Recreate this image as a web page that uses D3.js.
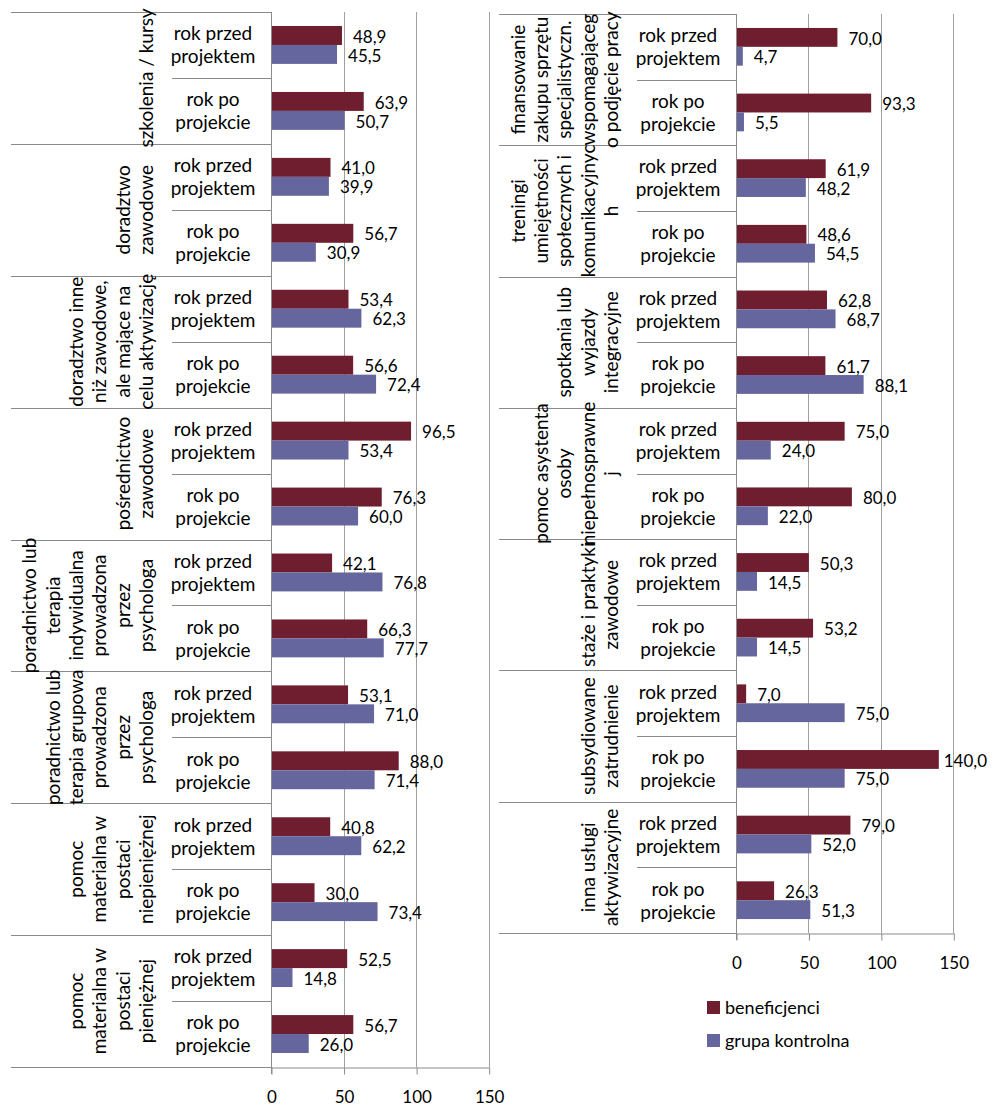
<!DOCTYPE html>
<html>
<head>
<meta charset="utf-8">
<script src="https://cdn.jsdelivr.net/npm/d3@7"></script>
<style>
  body { margin: 0; background: #fff; }
  svg text { font-family: Lato, "Open Sans", sans-serif; fill: #000; }
</style>
</head>
<body>
<svg id="chart" width="994" height="1106"></svg>
<script>
// ---- data ----
const periods = [["rok przed", "projektem"], ["rok po", "projekcie"]];
const seriesNames = ["beneficjenci", "grupa kontrolna"];
const seriesColors = ["#6e1e2e", "#66669e"];
const xTicks = [0, 50, 100, 150];

const leftGroups = [
  ["szkolenia / kursy"],
  ["doradztwo", "zawodowe"],
  ["doradztwo inne", "niż zawodowe,", "ale mające na", "celu aktywizację"],
  ["pośrednictwo", "zawodowe"],
  ["poradnictwo lub", "terapia", "indywidualna", "prowadzona", "przez", "psychologa"],
  ["poradnictwo lub", "terapia grupowa", "prowadzona", "przez", "psychologa"],
  ["pomoc", "materialna w", "postaci", "niepieniężnej"],
  ["pomoc", "materialna w", "postaci", "pieniężnej"]
];
const leftBenBefore  = [48.9, 41.0, 53.4, 96.5, 42.1, 53.1, 40.8, 52.5];
const leftCtrlBefore = [45.5, 39.9, 62.3, 53.4, 76.8, 71.0, 62.2, 14.8];
const leftBenAfter   = [63.9, 56.7, 56.6, 76.3, 66.3, 88.0, 30.0, 56.7];
const leftCtrlAfter  = [50.7, 30.9, 72.4, 60.0, 77.7, 71.4, 73.4, 26.0];

const rightGroups = [
  ["finansowanie", "zakupu sprzętu", "specjalistyczn.", "wspomagająceg", "o podjęcie pracy"],
  ["treningi", "umiejętności", "społecznych i", "komunikacyjnyc", "h"],
  ["spotkania lub", "wyjazdy", "integracyjne"],
  ["pomoc asystenta", "osoby", "niepełnosprawne", "j"],
  ["staże i praktyki", "zawodowe"],
  ["subsydiowane", "zatrudnienie"],
  ["inna usługi", "aktywizacyjne"]
];
const rightBenBefore  = [70.0, 61.9, 62.8, 75.0, 50.3, 7.0, 79.0];
const rightCtrlBefore = [4.7, 48.2, 68.7, 24.0, 14.5, 75.0, 52.0];
const rightBenAfter   = [93.3, 48.6, 61.7, 80.0, 53.2, 140.0, 26.3];
const rightCtrlAfter  = [5.5, 54.5, 88.1, 22.0, 14.5, 75.0, 51.3];

// ---- drawing ----
const svg = d3.select("#chart");
const fmt = v => d3.format(".1f")(v).replace(".", ",");
const lineColor = "#8a8a8a";
const gridColor = "#a0a0a0";

function drawPanel(cfg) {
  const g = svg.append("g");
  const n = cfg.groups.length;
  const x = d3.scaleLinear().domain([0, 150]).range([cfg.x0, cfg.x1]);
  const yGroup = d3.scaleBand().domain(d3.range(n)).range([cfg.top, cfg.bottom]);
  const yPeriod = d3.scaleBand().domain([0, 1]).range([0, yGroup.bandwidth()]);
  const ySeries = d3.scaleBand().domain([0, 1]).range([0, yPeriod.bandwidth()])
    .paddingInner(0).paddingOuter(0.74);

  const rows = [];
  cfg.groups.forEach((lab, i) => {
    [0, 1].forEach(p => {
      const vals = p === 0 ? [cfg.benBefore[i], cfg.ctrlBefore[i]] : [cfg.benAfter[i], cfg.ctrlAfter[i]];
      vals.forEach((v, s) => rows.push({ group: i, period: p, series: s, value: v }));
    });
  });
  const barY = d => yGroup(d.group) + yPeriod(d.period) + ySeries(d.series);

  // gridlines
  g.selectAll("line.grid").data(xTicks.filter(t => t > 0)).join("line")
    .attr("x1", d => Math.round(x(d)) + 0.5).attr("x2", d => Math.round(x(d)) + 0.5)
    .attr("y1", cfg.top).attr("y2", cfg.bottom)
    .attr("stroke", gridColor).attr("stroke-width", 1);

  // category dividers (groups)
  g.selectAll("line.gdiv").data(d3.range(n + 1)).join("line")
    .attr("x1", cfg.catLeft).attr("x2", Math.round(x(0)))
    .attr("y1", i => Math.round(cfg.top + i * yGroup.step()) + 0.5)
    .attr("y2", i => Math.round(cfg.top + i * yGroup.step()) + 0.5)
    .attr("stroke", lineColor);

  // category dividers (periods)
  g.selectAll("line.pdiv").data(d3.range(n)).join("line")
    .attr("x1", cfg.subLeft).attr("x2", Math.round(x(0)))
    .attr("y1", i => Math.round(yGroup(i) + yPeriod(1)) + 0.5)
    .attr("y2", i => Math.round(yGroup(i) + yPeriod(1)) + 0.5)
    .attr("stroke", lineColor);

  // bars
  g.selectAll("rect.bar").data(rows).join("rect")
    .attr("x", x(0) + 1)
    .attr("y", barY)
    .attr("width", d => Math.max(0, x(d.value) - x(0) - 1))
    .attr("height", ySeries.bandwidth())
    .attr("fill", d => seriesColors[d.series]);

  // value labels
  g.selectAll("text.val").data(rows).join("text")
    .attr("class", "val")
    .attr("x", d => x(d.value) + 11)
    .attr("y", d => barY(d) + ySeries.bandwidth() / 2 + 1)
    .attr("dy", "0.36em")
    .style("font-size", "17px")
    .text(d => fmt(d.value))
    .each(function () {
      const w = this.getComputedTextLength();
      const xx = +this.getAttribute("x");
      if (xx + w > cfg.labelMax) this.setAttribute("x", cfg.labelMax - w);
    });

  // period labels
  rows.filter(d => d.series === 0).forEach(d => {
    const cy = yGroup(d.group) + yPeriod(d.period) + yPeriod.bandwidth() / 2;
    periods[d.period].forEach((t, k) => {
      g.append("text")
        .attr("x", x(0) - 58)
        .attr("y", cy + (k === 0 ? -11.5 : 11.5))
        .attr("dy", "0.36em")
        .attr("text-anchor", "middle")
        .style("font-size", "19px")
        .text(t);
    });
  });

  // rotated group labels
  cfg.groups.forEach((lines, i) => {
    const cy = yGroup(i) + yGroup.bandwidth() / 2;
    const lg = g.append("g")
      .attr("transform", `translate(${x(0) - 125},${cy}) rotate(-90)`);
    lines.forEach((t, k) => {
      lg.append("text")
        .attr("x", 0)
        .attr("y", -(lines.length - 1 - k) * 23.3)
        .attr("dy", "0.36em")
        .attr("text-anchor", "middle")
        .style("font-size", "19px")
        .text(t);
    });
  });

  // value axis
  const axis = d3.axisBottom(x).tickValues(xTicks).tickSize(7).tickSizeOuter(0)
    .tickPadding(16).tickFormat(d3.format("d"));
  const ax = g.append("g")
    .attr("transform", `translate(0.5,${Math.round(cfg.bottom) + 0.5})`)
    .call(axis);
  ax.select(".domain").attr("stroke", lineColor);
  ax.selectAll(".tick line").attr("stroke", lineColor);
  ax.selectAll(".tick text").style("font-size", "17px").style("font-family", "Lato, 'Open Sans', sans-serif").attr("fill", "#000");

  // category axis line
  g.append("line")
    .attr("x1", Math.round(x(0)) + 0.5).attr("x2", Math.round(x(0)) + 0.5)
    .attr("y1", cfg.top).attr("y2", Math.round(cfg.bottom) + 7)
    .attr("stroke", lineColor);
}

drawPanel({
  groups: leftGroups,
  benBefore: leftBenBefore, ctrlBefore: leftCtrlBefore,
  benAfter: leftBenAfter, ctrlAfter: leftCtrlAfter,
  x0: 271, x1: 488.7, top: 12, bottom: 1067,
  catLeft: 11, subLeft: 172, labelMax: 990
});

drawPanel({
  groups: rightGroups,
  benBefore: rightBenBefore, ctrlBefore: rightCtrlBefore,
  benAfter: rightBenAfter, ctrlAfter: rightCtrlAfter,
  x0: 736, x1: 953.3, top: 14, bottom: 933,
  catLeft: 499, subLeft: 637, labelMax: 987
});

// legend
const legend = svg.append("g").attr("transform", "translate(707,1001)");
seriesNames.forEach((name, i) => {
  legend.append("rect")
    .attr("x", 0).attr("y", i * 33)
    .attr("width", 13).attr("height", 13)
    .attr("fill", seriesColors[i]);
  legend.append("text")
    .attr("x", 18).attr("y", i * 33 + 6.5)
    .attr("dy", "0.36em")
    .style("font-size", "18px")
    .text(name);
});
</script>
</body>
</html>
